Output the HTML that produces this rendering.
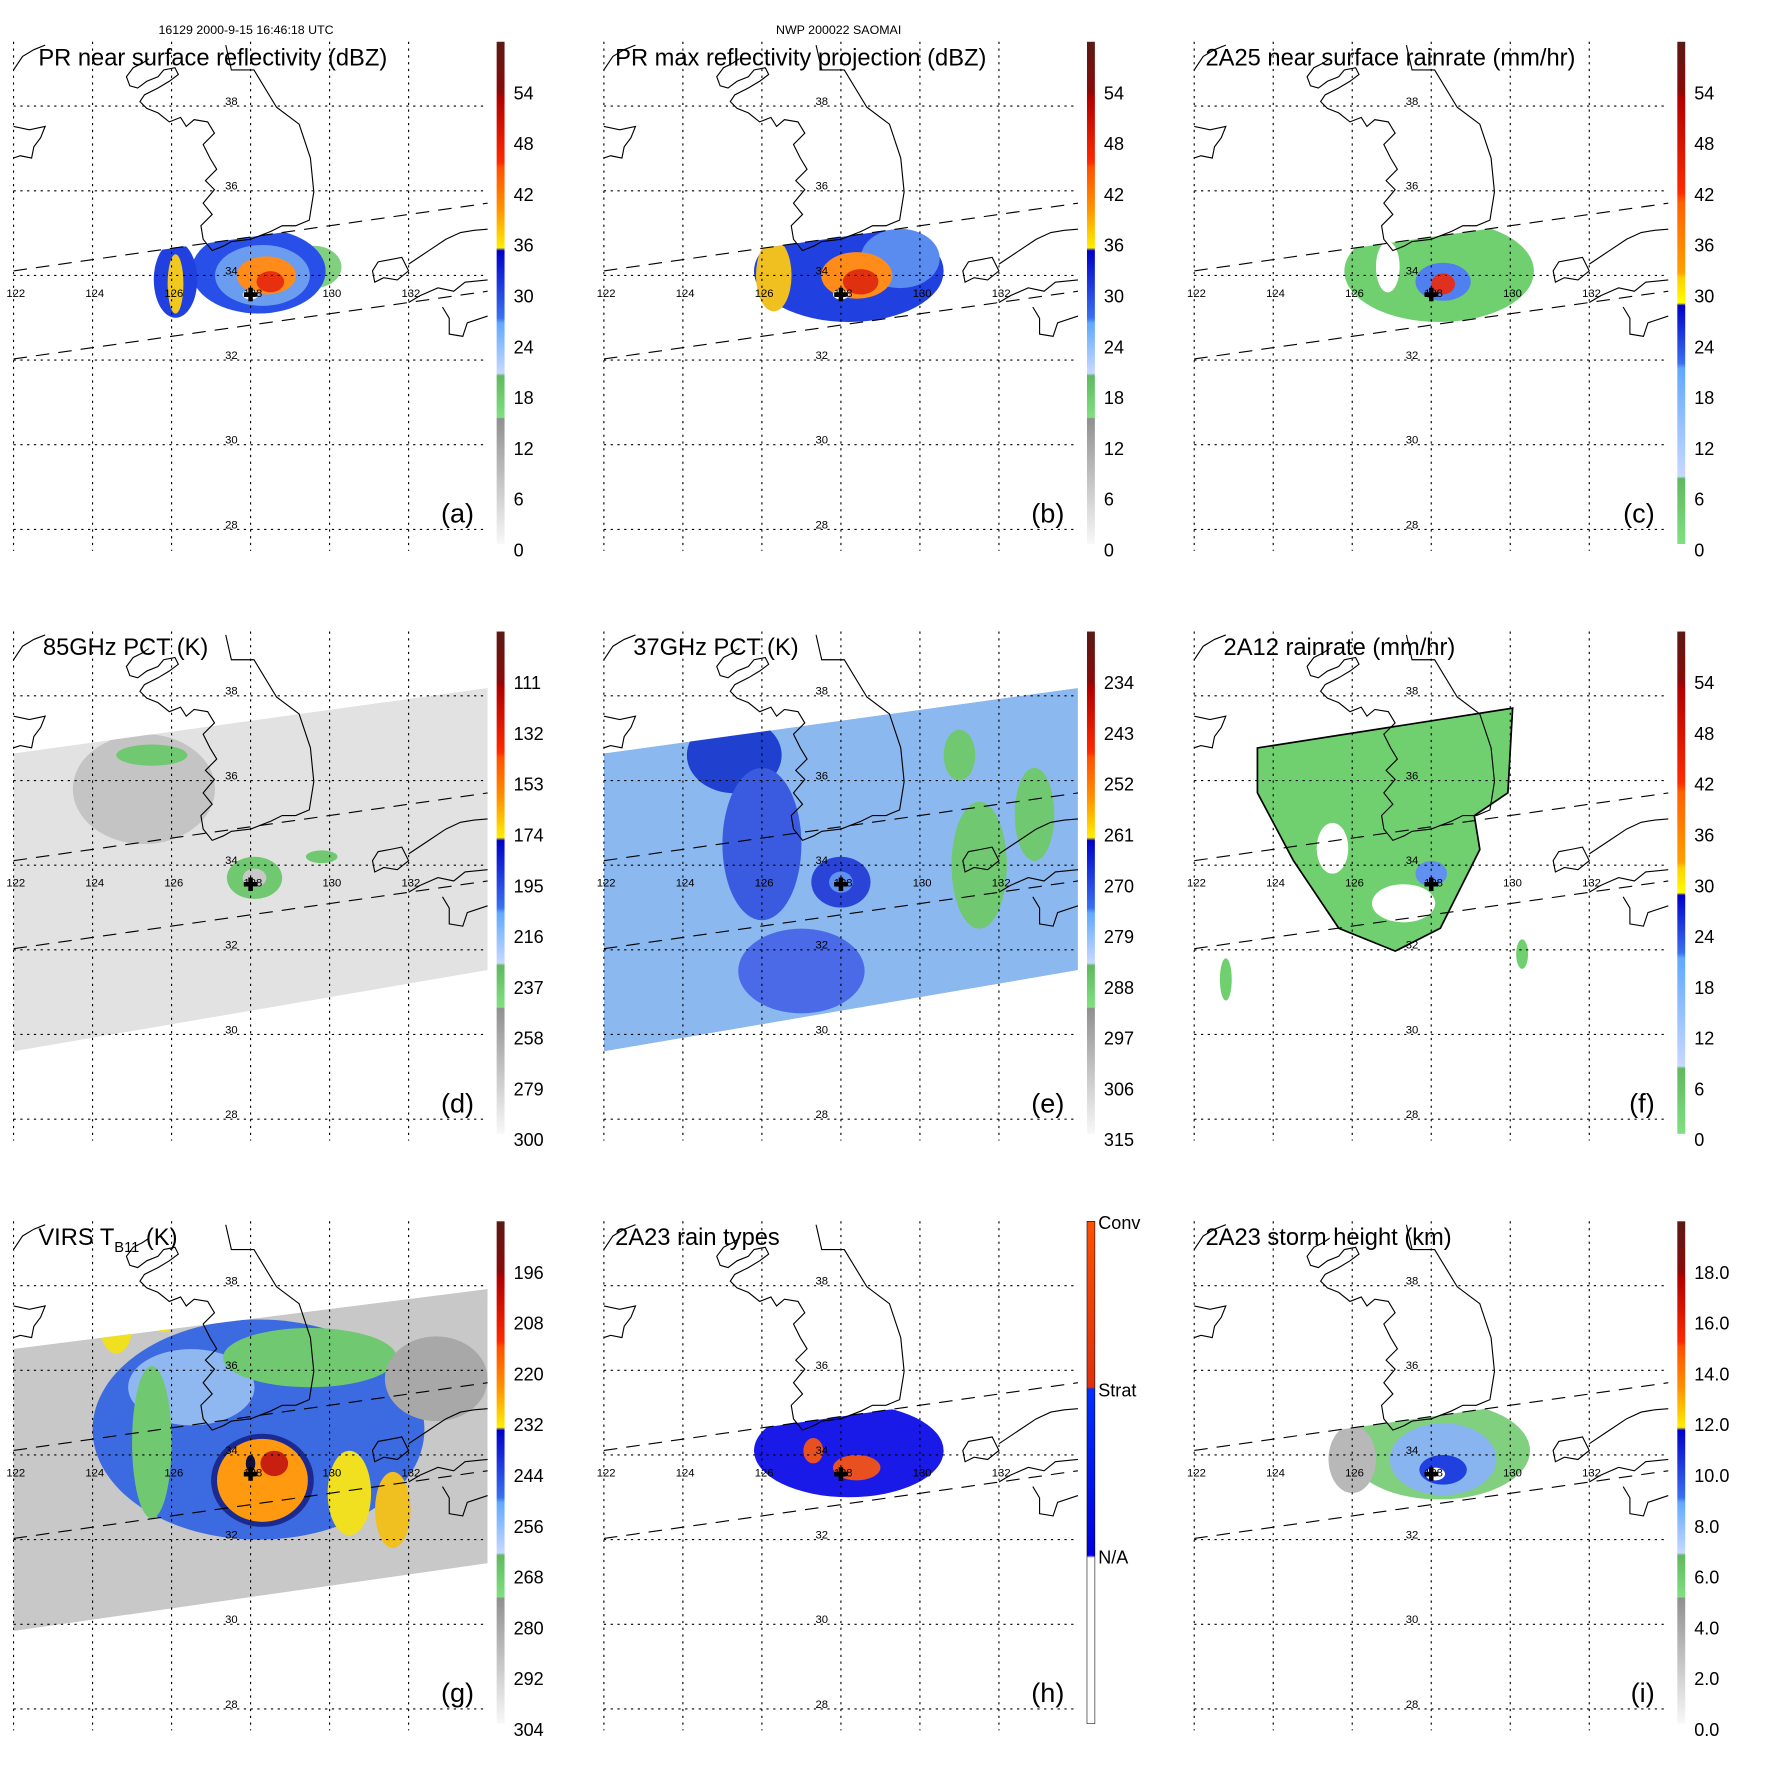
<!DOCTYPE html>
<html><head><meta charset="utf-8"><style>
html,body{margin:0;padding:0;background:#fff}
svg{display:block}
text{font-family:"Liberation Sans",sans-serif}
</style></head><body>
<svg id="fig" width="1771" height="1771" viewBox="0 0 1569 1569" xmlns="http://www.w3.org/2000/svg">
<defs>
<linearGradient id="cbStd" x1="0" y1="0" x2="0" y2="1">
<stop offset="0" stop-color="#5a1a14"/><stop offset="0.1" stop-color="#8a0a0a"/>
<stop offset="0.11" stop-color="#b00000"/><stop offset="0.24" stop-color="#ff2a00"/>
<stop offset="0.25" stop-color="#ff5000"/><stop offset="0.33" stop-color="#ff9000"/>
<stop offset="0.41" stop-color="#ffee00"/><stop offset="0.416" stop-color="#0000c8"/>
<stop offset="0.55" stop-color="#3a70f0"/><stop offset="0.56" stop-color="#60a8ff"/>
<stop offset="0.66" stop-color="#c8d8ff"/><stop offset="0.665" stop-color="#60b860"/>
<stop offset="0.748" stop-color="#80e080"/><stop offset="0.75" stop-color="#909090"/>
<stop offset="1" stop-color="#f8f8f8"/>
</linearGradient>
<linearGradient id="cbRain" x1="0" y1="0" x2="0" y2="1">
<stop offset="0" stop-color="#5a1a14"/><stop offset="0.1" stop-color="#8a0a0a"/>
<stop offset="0.11" stop-color="#b00000"/><stop offset="0.3" stop-color="#ff2a00"/>
<stop offset="0.32" stop-color="#ff6000"/><stop offset="0.46" stop-color="#ffa000"/>
<stop offset="0.47" stop-color="#ffd000"/><stop offset="0.52" stop-color="#ffff00"/>
<stop offset="0.525" stop-color="#0000c8"/><stop offset="0.64" stop-color="#3a70f0"/>
<stop offset="0.65" stop-color="#60a8ff"/><stop offset="0.865" stop-color="#c8d8ff"/>
<stop offset="0.87" stop-color="#60b860"/><stop offset="1" stop-color="#80e080"/>
</linearGradient>
<linearGradient id="cbType" x1="0" y1="0" x2="0" y2="1">
<stop offset="0" stop-color="#ff5000"/><stop offset="0.33" stop-color="#e03010"/>
<stop offset="0.334" stop-color="#0030ff"/><stop offset="0.665" stop-color="#0000e0"/>
<stop offset="0.67" stop-color="#ffffff"/><stop offset="1" stop-color="#ffffff"/>
</linearGradient>
</defs>
</svg>
<script>
const NS='http://www.w3.org/2000/svg';
const svg=document.getElementById('fig');
// axis data
const lonTicks=[122,124,126,128,130,132];
const latTicks=[38,36,34,32,30,28];
const titles=['PR near surface reflectivity (dBZ)','PR max reflectivity projection (dBZ)','2A25 near surface rainrate (mm/hr)','85GHz PCT (K)','37GHz PCT (K)','2A12 rainrate (mm/hr)','VIRS T','2A23 rain types','2A23 storm height (km)'];
const letters=['(a)','(b)','(c)','(d)','(e)','(f)','(g)','(h)','(i)'];
const cbLabelsA=['54','48','42','36','30','24','18','12','6','0'];
const cbLabelsD=['111','132','153','174','195','216','237','258','279','300'];
const cbLabelsE=['234','243','252','261','270','279','288','297','306','315'];
const cbLabelsG=['196','208','220','232','244','256','268','280','292','304'];
const cbLabelsI=['18.0','16.0','14.0','12.0','10.0','8.0','6.0','4.0','2.0','0.0'];
const cbLabelsH=['Conv','Strat','N/A'];
// blobs: [lon, lat, rxDeg, ryDeg, color]
const blobsA=[[129.6,34.2,0.7,0.5,'#80d080'],[128.2,34.1,1.7,1.0,'#2850e8'],[128.3,34.0,1.2,0.72,'#6a9cf0'],[126.1,33.9,0.55,0.9,'#2040e0'],[126.1,33.8,0.2,0.7,'#f0c820'],[128.4,34.0,0.75,0.45,'#ff8c1a'],[128.5,33.85,0.35,0.25,'#e83010'],[128,33.55,0.2,0.12,'#ffffff']];
const blobsB=[[128.2,34.1,2.4,1.2,'#2040e0'],[129.5,34.4,1.0,0.7,'#5a8cf0'],[126.3,34.0,0.45,0.85,'#f0c020'],[128.4,34.0,0.9,0.55,'#ff8c1a'],[128.5,33.85,0.45,0.3,'#e03010'],[128,33.55,0.2,0.12,'#ffffff']];
const blobsC=[[128.2,34.1,2.4,1.2,'#70d070'],[128.3,33.85,0.7,0.45,'#5080f0'],[128.3,33.8,0.3,0.25,'#e03020'],[126.9,34.2,0.3,0.6,'#ffffff']];
const blobsD=[[125.3,35.8,1.8,1.3,'#c4c4c4'],[125.5,36.6,0.9,0.25,'#70c870'],[128.1,33.7,0.7,0.5,'#70c870'],[128.1,33.7,0.3,0.22,'#c8c8c8'],[129.8,34.2,0.4,0.15,'#70c870']];
const blobsE=[[125.3,36.6,1.2,0.9,'#2040d0'],[126.0,34.5,1.0,1.8,'#3a5ae0'],[127.0,31.5,1.6,1.0,'#4a6ae8'],[128,33.6,0.75,0.6,'#2a44d8'],[128,33.6,0.3,0.25,'#6090f0'],[131.5,34.0,0.7,1.5,'#70c870'],[132.9,35.2,0.5,1.1,'#70c870'],[131.0,36.6,0.4,0.6,'#70c870']];
const blobsF=[[127.3,33.1,0.8,0.45,'#ffffff'],[125.5,34.4,0.4,0.6,'#ffffff'],[128,33.8,0.4,0.3,'#6090f0'],[122.8,31.3,0.15,0.5,'#70d070'],[130.3,31.9,0.15,0.35,'#70d070']];
const blobsG=[[128.2,34.6,4.2,2.6,'#3c6ae0'],[126.5,35.6,1.6,0.9,'#90b8f0'],[125.5,34.3,0.5,1.8,'#70c870'],[129.5,36.3,2.2,0.7,'#70c870'],[132.7,35.8,1.3,1.0,'#a8a8a8'],[130.5,33.1,0.55,1.0,'#f0e020'],[131.6,32.7,0.45,0.9,'#f0c020'],[124.6,37.0,0.4,0.6,'#f0e020'],[125.8,37.3,0.35,0.4,'#f0e020'],[128.3,33.4,1.3,1.1,'#1a2a90'],[128.3,33.4,1.15,0.98,'#ff9a10'],[128.6,33.8,0.35,0.3,'#c82010'],[128,33.8,0.12,0.2,'#101040']];
const blobsH=[[128.2,34.1,2.4,1.1,'#1a1ae8'],[128.4,33.7,0.6,0.3,'#e85020'],[127.3,34.1,0.25,0.3,'#e85020']];
const blobsI=[[128.2,34.1,2.3,1.15,'#80d080'],[126.0,33.9,0.6,0.8,'#b8b8b8'],[128.3,33.9,1.35,0.85,'#88b4f0'],[128.3,33.65,0.6,0.35,'#2040e0'],[128.1,33.55,0.25,0.15,'#ffffff']];
const blobsAll=[blobsA,blobsB,blobsC,blobsD,blobsE,blobsF,blobsG,blobsH,blobsI];
const cbLabelsAll=[cbLabelsA,cbLabelsA,cbLabelsA,cbLabelsD,cbLabelsE,cbLabelsA,cbLabelsG,cbLabelsH,cbLabelsI];
const cbFills=['cbStd','cbStd','cbRain','cbStd','cbStd','cbRain','cbStd','cbType','cbStd'];
const swathKind=['pr','pr','pr','tmi','tmi','none','virs','pr','pr'];

function xOf(lon){return 12+(lon-122)*35;}
function yOf(lat){return 94+(38-lat)*37.5;}
function mk(tag,attrs,parent){const e=document.createElementNS(NS,tag);for(const k in attrs)e.setAttribute(k,attrs[k]);parent.appendChild(e);return e;}

const korea='M200,40 L205,62 L225,62 L245,95 L265,110 L275,140 L278,170 L274,195 L262,200 L250,200 L240,205 L222,212 L205,214 L198,218 L188,222 L180,212 L178,200 L188,190 L180,180 L190,168 L182,160 L192,150 L186,140 L180,128 L190,118 L184,108 L172,106 L165,112 L160,104 L150,108 L140,100 L130,96 L124,90 L128,84 L140,78 L150,72 L158,66 L155,60 L145,62 L140,68 L130,72 L122,78 L115,76 L112,68 L118,60 L126,56 L132,52';
const liaodong='M12,62 L20,50 L30,44 L40,40';
const shandong='M12,112 L26,115 L40,112 L36,122 L30,130 L28,140 L18,138 L12,140';
const kyushu='M330,240 L335,232 L346,230 L356,228 L362,240 L352,248 L340,246 L332,250 Z';
const honshuN='M362,234 L380,222 L395,212 L408,206 L420,204 L432,203';
const honshuS='M362,268 L372,262 L388,255 L402,258 L412,250 L432,248';
const shikoku='M392,272 L398,282 L398,296 L410,298 L414,286 L432,280';

for(let p=0;p<9;p++){
  const col=p%3,row=Math.floor(p/3);
  const g=mk('g',{transform:`translate(${col*523},${row*522.5})`},svg);
  
  
  const cid='clip'+p;
  const cp=mk('clipPath',{id:cid},g);
  let swathPts='';
  if(swathKind[p]==='pr'||swathKind[p]==='none') swathPts='12,240 432,180 432,258 12,318';
  if(swathKind[p]==='tmi') swathPts='12,145 432,87 432,337 12,409';
  if(swathKind[p]==='virs') swathPts='12,150 432,97 432,340 12,400';
  if(swathKind[p]==='none') mk('rect',{x:12,y:37,width:420,height:450},cp);
  else mk('polygon',{points:swathPts},cp);
  const dg=mk('g',{'clip-path':`url(#${cid})`},g);
  
  
  if(swathKind[p]==='tmi'){const bg=mk('polygon',{points:swathPts,fill:p===3?'#e2e2e2':'#8cb8f0'},dg);
    
    }
  if(swathKind[p]==='virs'){const bg=mk('polygon',{points:swathPts,fill:'#c8c8c8'},dg);
    
    }
  if(p===5){
    const fpoly=[[123.6,36.77],[130.06,37.71],[129.94,35.71],[129.09,35.17],[129.23,34.37],[128.23,32.51],[127.09,31.97],[125.66,32.51],[124.51,34.11],[123.6,35.71]];
    const pl=mk('polygon',{points:fpoly.map(q=>xOf(q[0])+','+yOf(q[1])).join(' '),fill:'#70d070',stroke:'#000','stroke-width':1.5},dg);
    
    
  }
  for(const b of blobsAll[p]){
    const e=mk('ellipse',{cx:xOf(b[0]),cy:yOf(b[1]),rx:b[2]*35,ry:b[3]*37.5,fill:b[4]},dg);
    
    
  }
  for(const d of [korea,liaodong,shandong,kyushu,honshuN,honshuS,shikoku]){
    const c=mk('path',{d:d,fill:'none',stroke:'#000','stroke-width':1},g);
    
    
  }
  for(const lon of lonTicks){
    const l=mk('line',{x1:xOf(lon),x2:xOf(lon),y1:37,y2:488,stroke:'#000','stroke-width':1,'stroke-dasharray':'2,4'},g);
    
    
    const t=mk('text',{x:xOf(lon)+2,y:263,'font-size':10,'text-anchor':'middle'},g);t.textContent=lon;
    
    
  }
  for(const lat of latTicks){
    const l=mk('line',{x1:12,x2:432,y1:yOf(lat),y2:yOf(lat),stroke:'#000','stroke-width':1,'stroke-dasharray':'2,4'},g);
    
    
    const t=mk('text',{x:205,y:yOf(lat)-1,'font-size':10,'text-anchor':'middle'},g);t.textContent=lat;
    
    
  }
  for(const ln of [[12,240,432,180],[12,318,432,258]]){
    const l=mk('line',{x1:ln[0],y1:ln[1],x2:ln[2],y2:ln[3],stroke:'#000','stroke-width':1,'stroke-dasharray':'12,8'},g);
    
    
  }
  const cx=xOf(128),cy=yOf(33.55);
  const cr=mk('path',{d:`M${cx-6},${cy}H${cx+6}M${cx},${cy-6}V${cy+6}`,stroke:'#000','stroke-width':4},g);
  
  
  const tt=mk('text',{x:p%3===0?34:22,y:58,'font-size':21},g);
  if(p===6){tt.textContent='VIRS T';const s=mk('tspan',{'font-size':13,dy:6},tt);s.textContent='B11';const s2=mk('tspan',{dy:-6},tt);s2.textContent=' (K)';tt.setAttribute('x',34);}
  else tt.textContent=titles[p];
  if(p===3||p===4||p===5){tt.setAttribute('x',38);}
  
  
  const lt=mk('text',{x:420,y:463,'font-size':24,'text-anchor':'end'},g);lt.textContent=letters[p];
  
  
  const cb=mk('rect',{x:440,y:37,width:7,height:445,fill:`url(#${cbFills[p]})`,stroke:p===7?'#000':'none','stroke-width':0.5},g);
  
  
  const labs=cbLabelsAll[p];
  labs.forEach((s,i)=>{
    const y=p===7?(37+i*148+7):(82+i*45+6);
    const t=mk('text',{x:p===7?450:455,y:y,'font-size':16},g);t.textContent=s;
    
    
  });
}
const h1=mk('text',{x:218,y:30,'font-size':11,'text-anchor':'middle'},svg);h1.textContent='16129 2000-9-15 16:46:18 UTC';


const h2=mk('text',{x:743,y:30,'font-size':11,'text-anchor':'middle'},svg);h2.textContent='NWP 200022 SAOMAI';


</script>
</body></html>
